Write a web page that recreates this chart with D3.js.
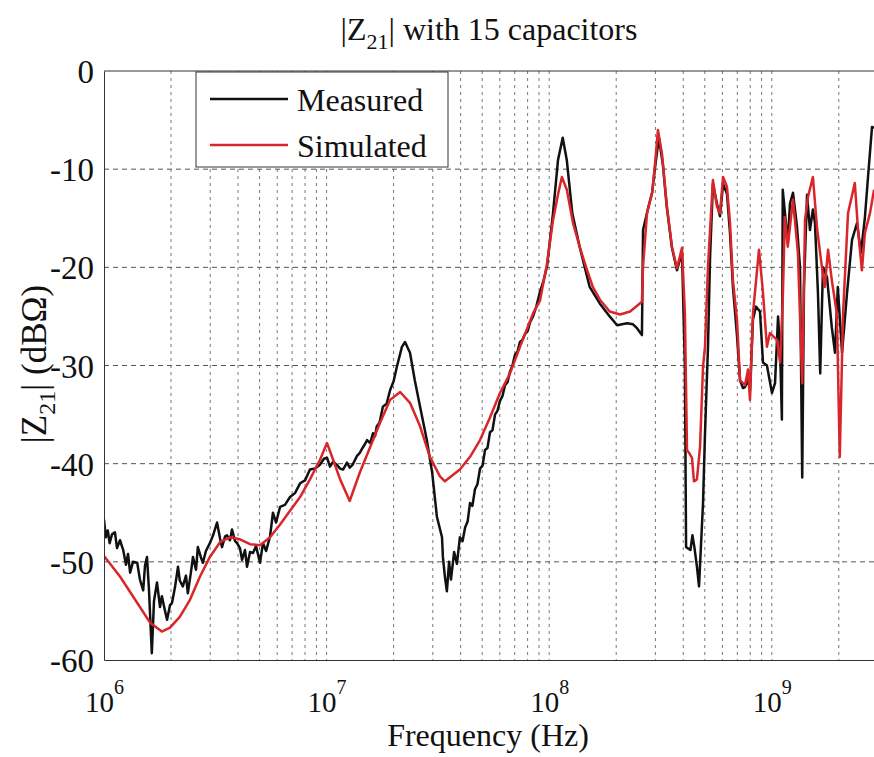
<!DOCTYPE html>
<html><head><meta charset="utf-8">
<script src="https://cdn.jsdelivr.net/npm/d3@7"></script>
<style>
html,body{margin:0;padding:0;background:#fff;}
svg{display:block;}
svg text{font-family:"Liberation Serif","Times New Roman",Times,serif !important;fill:#111;}
</style></head><body>
<svg id="chart" width="874" height="757"></svg>
<script>
// ---------- DATA ----------
const measuredFreqMHz = [1.00,1.02,1.04,1.06,1.086,1.12,1.144,1.18,1.22,1.255,1.282,1.31,1.35,1.41,1.45,1.50,1.528,1.56,1.592,1.64,1.677,1.73,1.785,1.82,1.88,1.92,1.98,2.02,2.084,2.15,2.19,2.26,2.335,2.38,2.46,2.51,2.59,2.64,2.73,2.78,2.87,2.99,3.09,3.22,3.32,3.39,3.50,3.57,3.68,3.76,3.88,3.96,4.08,4.17,4.30,4.39,4.53,4.67,4.82,5.02,5.18,5.35,5.57,5.74,5.93,6.18,6.50,6.85,7.21,7.60,8.00,8.42,8.87,9.34,9.73,10.04,10.36,10.7,11.1,11.5,11.85,12.35,12.7,13.1,13.7,14.1,14.5,14.88,15.2,15.7,16.16,16.5,16.8,17.3,17.9,18.6,19.3,20.0,20.7,21.8,22.5,23.7,24.9,26.3,28.2,29.8,31.3,33.0,33.3,34.0,34.7,35.5,36.2,37.4,38.5,39.7,40.8,41.9,43.0,44.1,45.2,46.4,47.6,48.9,50.2,51.5,52.8,54.2,55.6,57.1,58.6,60.1,61.7,63.3,65.0,66.7,68.4,70.2,72.0,73.9,75.8,77.8,80.0,82.0,84.6,87.5,90.9,94.2,97.8,104,109.5,115,120,127,137,152,169,187,202,224,238,248,261,264,278,290,299,311,324,338,356,375,395,407,412,431,440,449,461,471,491,501,517,528,544,567,585,604,629,649,669,698,720,742,758,782,798,823,849,885,913,951,1002,1034,1067,1090,1110,1120,1180,1207,1245,1297,1339,1370,1395,1440,1484,1530,1563,1612,1650,1698,1770,1860,1923,1980,2068,2178,2293,2414,2516,2620,2706,2820,2880];
const measuredDb = [-45.7,-47.5,-46.8,-48.1,-47.2,-47.0,-48.6,-47.8,-48.8,-50.3,-49.2,-51.1,-50.0,-50.1,-51.8,-52.9,-50.4,-49.5,-52.8,-59.3,-54.0,-52.1,-54.6,-53.5,-55.0,-55.9,-54.4,-54.2,-52.6,-50.5,-51.9,-52.5,-51.4,-53.2,-51.0,-49.5,-50.8,-48.5,-49.6,-50.1,-48.9,-48.1,-47.3,-46.0,-47.6,-48.5,-47.4,-47.3,-47.8,-46.7,-47.9,-48.1,-48.6,-49.8,-48.8,-50.5,-49.0,-49.1,-48.4,-50.1,-48.1,-48.9,-47.4,-45.0,-46.0,-44.4,-44.2,-43.4,-43.0,-42.0,-41.7,-40.6,-40.5,-40.1,-39.5,-39.4,-40.3,-39.8,-40.1,-40.5,-40.6,-39.9,-40.4,-40.1,-39.2,-38.9,-38.4,-38.0,-37.6,-37.9,-36.9,-37.2,-36.2,-35.8,-34.2,-33.9,-32.5,-31.6,-30.1,-28.1,-27.6,-28.7,-31.5,-34.2,-37.6,-40.9,-45.4,-47.5,-49.5,-51.5,-53.0,-50.0,-51.8,-49.0,-50.2,-47.5,-47.9,-46.5,-45.9,-44.0,-44.3,-42.6,-42.1,-40.5,-40.2,-38.6,-38.4,-36.8,-36.6,-35.0,-34.6,-33.6,-33.1,-32.0,-31.7,-30.6,-30.0,-28.9,-28.6,-27.6,-27.4,-26.8,-26.5,-25.6,-25.0,-24.0,-22.5,-21.4,-19.9,-14.5,-9.1,-6.8,-9.1,-14.5,-17.9,-22.0,-23.7,-25.0,-25.9,-25.7,-25.8,-26.2,-26.9,-16.2,-14.0,-12.4,-9.8,-6.8,-9.5,-14.0,-18.0,-20.3,-18.5,-30.0,-48.5,-48.8,-47.3,-48.5,-50.5,-52.5,-44.0,-37.0,-28.0,-19.0,-11.5,-13.5,-14.8,-11.5,-12.5,-16.5,-22.0,-27.0,-31.5,-32.3,-32.2,-31.4,-32.6,-25.3,-24.0,-24.5,-29.7,-30.0,-32.8,-31.8,-25.0,-28.4,-35.5,-12.1,-17.5,-13.5,-12.4,-15.8,-20.0,-41.4,-22.0,-12.6,-16.2,-14.1,-15.5,-22.6,-30.8,-20.0,-21.0,-26.1,-28.7,-22.0,-28.7,-22.6,-17.2,-15.5,-18.5,-14.9,-10.8,-5.7,-5.8];
const simulatedFreqMHz = [1.0,1.18,1.45,1.61,1.82,1.98,2.19,2.43,2.70,2.99,3.32,3.68,4.08,4.53,5.02,5.57,6.18,6.85,7.60,8.42,9.34,10.04,10.7,11.5,12.7,14.1,15.7,17.4,19.3,21.4,23.7,26.3,29.1,32.3,34.0,39.7,44.1,48.9,54.2,60.1,66.7,73.9,84.6,90.9,97.8,104,109.5,114,120,128,137,148,157,169,187,208,231,261,264,275,290,299,308,321,338,356,375,395,407,416,425,438,447,461,476,491,501,517,544,567,585,604,629,649,669,698,720,758,782,798,823,876,913,951,981,1055,1090,1120,1145,1180,1245,1310,1370,1410,1455,1530,1600,1680,1730,1790,1860,1960,2020,2090,2200,2360,2440,2540,2620,2760,2880];
const simulatedDb = [-49.4,-51.5,-54.6,-56.2,-57.1,-56.7,-55.6,-53.9,-51.5,-49.5,-48.0,-47.5,-47.7,-48.2,-48.3,-47.5,-46.2,-44.8,-43.4,-41.6,-39.6,-37.9,-39.6,-41.6,-43.8,-40.9,-38.3,-35.8,-33.5,-32.7,-33.8,-36.2,-39.3,-41.3,-41.8,-40.6,-39.3,-37.6,-35.3,-32.8,-30.8,-28.1,-24.7,-23.4,-19.6,-15.2,-12.6,-10.8,-12.1,-15.5,-17.9,-20.3,-22.0,-23.3,-24.5,-24.8,-24.5,-23.5,-19.9,-14.5,-12.4,-9.4,-6.0,-8.4,-13.8,-17.9,-20.1,-18.0,-24.7,-38.6,-38.9,-39.4,-41.8,-41.6,-38.3,-30.1,-28.1,-19.9,-11.1,-13.8,-14.5,-10.8,-11.8,-15.5,-21.3,-25.4,-31.5,-32.0,-30.4,-33.5,-24.7,-18.2,-22.6,-28.1,-26.7,-27.4,-29.7,-23.3,-14.9,-17.9,-13.1,-18.5,-31.8,-15.2,-12.8,-10.8,-16.2,-20.0,-22.0,-18.2,-21.3,-24.7,-39.3,-24.7,-14.5,-11.4,-16.2,-20.3,-16.5,-14.5,-12.1];
const yTickValues = [0,-10,-20,-30,-40,-50,-60];
const xDecadeExponents = [6,7,8,9];
const seriesNames = ["Measured","Simulated"];
const seriesColors = ["#111111","#d8262b"];

// ---------- LAYOUT ----------
const FONT = "'Liberation Serif','Times New Roman',Times,serif";
const L=104, T=71, B=660, R=878;
const svg = d3.select("#chart");
const x = d3.scaleLog().domain([1e6,3e9]).range([L,R]);
const y = d3.scaleLinear().domain([-60,0]).range([B,T]);

// grid: vertical (all k*10^n)
const vGrid = [];
xDecadeExponents.forEach(e=>{ for(let k=1;k<=9;k++){ const v=k*Math.pow(10,e); if(v>1e6 && v<3e9) vGrid.push(v);} });
svg.append("g").selectAll("line").data(vGrid).join("line")
  .attr("x1",d=>x(d)).attr("x2",d=>x(d)).attr("y1",T).attr("y2",B)
  .attr("stroke","#777").attr("stroke-width",1).attr("stroke-dasharray","3,4");
svg.append("g").selectAll("line").data(yTickValues.filter(v=>v<0 && v>-60)).join("line")
  .attr("x1",L).attr("x2",874).attr("y1",d=>y(d)).attr("y2",d=>y(d))
  .attr("stroke","#555").attr("stroke-width",1).attr("stroke-dasharray","5,4");

// clip
svg.append("clipPath").attr("id","clip").append("rect").attr("x",L).attr("y",T).attr("width",R-L).attr("height",B-T);

const line = d3.line().x(d=>x(d[0]*1e6)).y(d=>y(d[1]));
const meas = measuredFreqMHz.map((f,i)=>[f,measuredDb[i]]);
const sim = simulatedFreqMHz.map((f,i)=>[f,simulatedDb[i]]);
const plot = svg.append("g").attr("clip-path","url(#clip)");
plot.append("path").datum(meas).attr("d",line).attr("fill","none").attr("stroke",seriesColors[0]).attr("stroke-width",2.5).attr("stroke-linejoin","round");
plot.append("path").datum(sim).attr("d",line).attr("fill","none").attr("stroke",seriesColors[1]).attr("stroke-width",2.5).attr("stroke-linejoin","round");

// axes
const yAxis = d3.axisLeft(y).tickValues(yTickValues).tickSize(0).tickPadding(10).tickFormat(d=>String(d));
const gy = svg.append("g").attr("transform",`translate(${L},0)`).call(yAxis);
gy.attr("font-family",FONT);
gy.select(".domain").attr("stroke","#333");
gy.selectAll(".tick text").attr("font-size",33).style("font-family",FONT).attr("fill","#111").attr("dy","0.35em");

const xAxis = d3.axisBottom(x).tickValues(xDecadeExponents.map(e=>Math.pow(10,e))).tickSize(0).tickFormat("");
const gx = svg.append("g").attr("transform",`translate(0,${B})`).call(xAxis);
gx.attr("font-family",FONT);
gx.select(".domain").attr("stroke","#333");
gx.selectAll(".tick text").each(function(d){
  const t = d3.select(this);
  t.text(null).attr("y",52).attr("dy",0).attr("font-size",29).style("font-family",FONT).attr("fill","#111").attr("text-anchor","middle");
  t.append("tspan").text("10");
  t.append("tspan").attr("dy",-18).attr("font-size",20).text(Math.round(Math.log10(d)));
});
// top border
svg.append("line").attr("x1",L).attr("x2",R).attr("y1",T).attr("y2",T).attr("stroke","#333");

// title
const title = svg.append("text").attr("x",489).attr("y",40).attr("text-anchor","middle").attr("font-size",32).style("font-family",FONT);
title.append("tspan").text("|Z");
title.append("tspan").attr("dy",9).attr("font-size",22).text("21");
title.append("tspan").attr("dy",-9).text("| with 15 capacitors");

// x label
svg.append("text").attr("x",488).attr("y",746).attr("text-anchor","middle").attr("font-size",32).style("font-family",FONT).text("Frequency (Hz)");

// y label
const yl = svg.append("text").attr("transform","translate(46,364) rotate(-90)").attr("text-anchor","middle").attr("font-size",35).style("font-family",FONT);
yl.append("tspan").text("|Z");
yl.append("tspan").attr("dy",9).attr("font-size",24).text("21");
yl.append("tspan").attr("dy",-9).text("| (dBΩ)");

// legend
const lg = svg.append("g");
lg.append("rect").attr("x",196).attr("y",72).attr("width",252).attr("height",95).attr("fill","#fff").attr("stroke","#333");
seriesNames.forEach((n,i)=>{
  const yy = 99 + i*46;
  lg.append("line").attr("x1",210).attr("x2",288).attr("y1",yy).attr("y2",yy).attr("stroke",seriesColors[i]).attr("stroke-width",2.5);
  lg.append("text").attr("x",297).attr("y",yy+12).attr("font-size",32).style("font-family",FONT).text(n);
});
</script>
</body></html>
